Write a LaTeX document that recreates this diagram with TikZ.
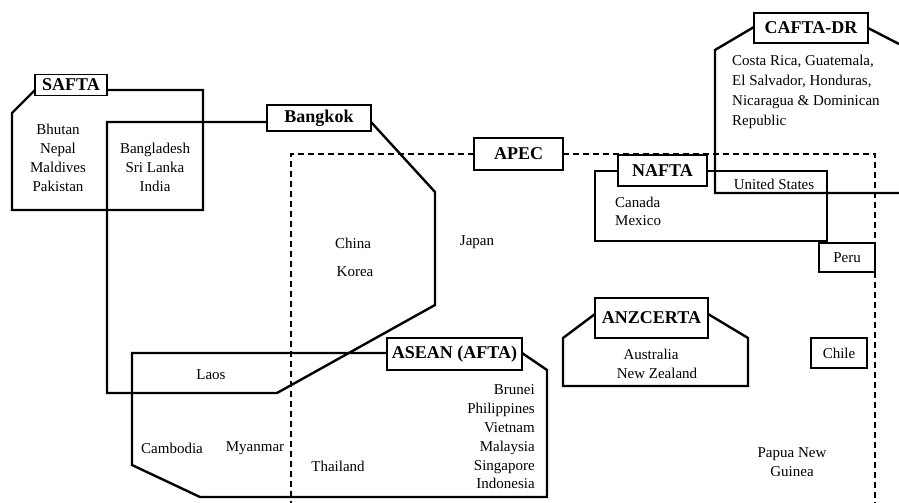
\documentclass[tikz,border=0pt]{standalone}
\usepackage{fontspec}
\setmainfont{Liberation Serif}
\begin{document}
\begin{tikzpicture}[x=1pt,y=-1pt,
  region/.style={line width=2.4pt,line join=miter},
  apecline/.style={line width=1.1pt,dash pattern=on 6pt off 4pt},
  tag/.style={draw,fill=white,line width=1.1pt,inner sep=0pt,font=\fontsize{18}{20}\selectfont\bfseries},
  cbox/.style={draw,fill=white,line width=1.1pt,inner sep=0pt,font=\fontsize{15}{19}\selectfont},
  txt/.style={inner sep=0pt,font=\fontsize{15}{19}\selectfont}]
\useasboundingbox (0,0) rectangle (899,503);

% APEC dashed region
\draw[apecline] (474,154) -- (291,154) -- (291,503);
\draw[apecline] (563,154) -- (875,154) -- (875,503);

% regions
\draw[region] (107,90) -- (203,90) -- (203,210) -- (12,210) -- (12,113) -- (35,90);
\draw[region] (267,122) -- (107,122) -- (107,393) -- (277,393) -- (435,305) -- (435,192) -- (371,122);
\draw[region] (618,171) -- (595,171) -- (595,241) -- (827,241) -- (827,171) -- (707,171);
\draw[region] (754,27) -- (715,50) -- (715,193) -- (899,193);
\draw[region] (868,28) -- (899,44);
\draw[region] (595,314) -- (563,338) -- (563,386) -- (748,386) -- (748,338) -- (708,314);
\draw[region] (387,353) -- (132,353) -- (132,465) -- (200,497) -- (547,497) -- (547,370) -- (522,353);

% labels
\node[tag,minimum width=72pt,minimum height=21pt] (safta) at (71,85) {SAFTA};
\node[tag,minimum width=104pt,minimum height=26pt] (bangkok) at (319,118) {Bangkok};
\node[tag,minimum width=89pt,minimum height=32pt] (apec) at (518.5,154) {APEC};
\node[tag,minimum width=89pt,minimum height=31pt] (nafta) at (662.5,170.5) {NAFTA};
\node[tag,minimum width=114pt,minimum height=30pt] (cafta) at (811,28) {CAFTA-DR};
\node[tag,minimum width=113pt,minimum height=40pt] (anz) at (651.5,318) {ANZCERTA};
\node[tag,minimum width=135pt,minimum height=32pt] (asean) at (454.5,354) {ASEAN (AFTA)};
\node[cbox,minimum width=56pt,minimum height=29pt] (peru) at (847,257.5) {Peru};
\node[cbox,minimum width=56pt,minimum height=30pt] (chile) at (839,353) {Chile};

% countries
\node[txt,align=center] (safta1) at (58,158) {Bhutan\\Nepal\\Maldives\\Pakistan};
\node[txt,align=center] (safta2) at (155,167) {Bangladesh\\Sri Lanka\\India};
\node[txt] (china) at (353,243) {China};
\node[txt] (korea) at (355,272) {Korea};
\node[txt] (japan) at (477,242) {Japan};
\node[txt,align=left,anchor=west,font=\fontsize{15}{18}\selectfont] (namer) at (615,211) {Canada\\Mexico};
\node[txt] (us) at (774,184) {United States};
\node[txt,align=left,anchor=west,font=\fontsize{15}{20}\selectfont] (camer) at (732,92) {Costa Rica, Guatemala,\\El Salvador, Honduras,\\Nicaragua \& Dominican\\Republic};
\node[txt] (aus) at (651,354) {Australia};
\node[txt] (nz) at (657,373) {New Zealand};
\node[txt,align=center] (png) at (792,462.5) {Papua New\\Guinea};
\node[txt] (laos) at (211,375) {Laos};
\node[txt] (cambodia) at (172,448) {Cambodia};
\node[txt] (myanmar) at (255,448) {Myanmar};
\node[txt] (thailand) at (338,466) {Thailand};
\node[txt,align=right,anchor=east,font=\fontsize{15}{18.8}\selectfont] (asean1) at (535,437) {Brunei\\Philippines\\Vietnam\\Malaysia\\Singapore\\Indonesia};
\end{tikzpicture}
\end{document}
